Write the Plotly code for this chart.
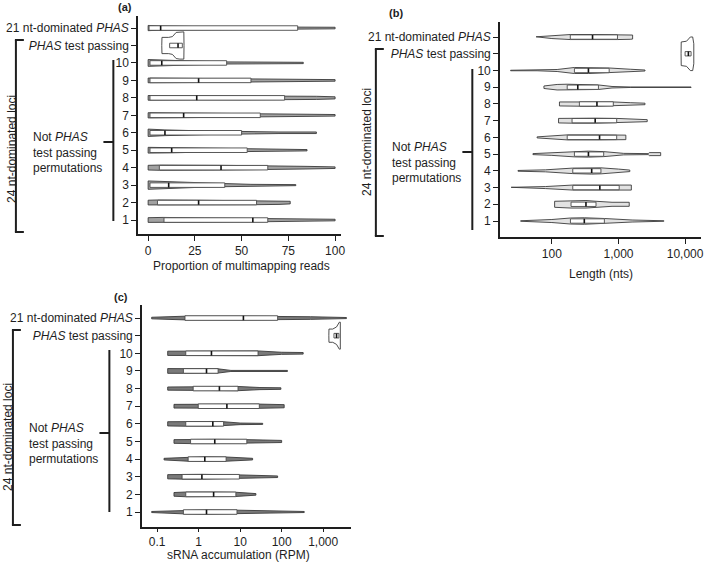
import plotly.graph_objects as go

W, H = 709, 566

# ---------------- data (rows: 1..10, PHAS test passing, 21 nt-dominated PHAS) ----------------
ROW_POS = list(range(1, 13))
ROW_LABELS = [str(i) for i in range(1, 11)] + ["<i>PHAS</i> test passing", "21 nt-dominated <i>PHAS</i>"]

# (a) Proportion of multimapping reads
A_MIN = [0, 0, 0, 0, 0, 0, 0, 0, 0, 0, 7.3, 0]
A_Q1 = [8.5, 5, 1, 6, 1, 1, 1, 1, 1, 1, 11.5, 0.5]
A_MED = [56, 27, 11, 39, 12.6, 9, 19, 26, 27, 7.3, 16, 6.7]
A_Q3 = [64, 58, 41, 64, 53, 50, 60, 73, 55, 42, 18.3, 80]
A_MAX = [100, 76, 79, 100, 85, 90, 100, 100, 100, 83, 19.2, 100]
A_VX = [[0, 8, 30, 56, 64, 85, 100], [0, 5, 27, 58, 70, 76], [0, 11, 25, 41, 55, 79],
        [0, 6, 39, 64, 85, 100], [0, 12.6, 30, 53, 70, 85], [0, 9, 30, 50, 70, 90],
        [0, 19, 40, 60, 80, 100], [0, 26, 50, 73, 90, 100], [0, 27, 55, 80, 100],
        [0, 7, 25, 42, 60, 83], [7.3, 7.4, 11, 13, 15, 17, 19.1, 19.2],
        [0, 7, 30, 80, 100]]
A_VW = [[0.9, 1, 0.8, 0.7, 0.7, 0.5, 0.3], [0.9, 1, 0.9, 0.8, 0.7, 0.5], [1.6, 1.4, 0.9, 0.6, 0.3, 0.2],
        [0.9, 1, 0.9, 0.8, 0.5, 0.3], [1.1, 1, 0.7, 0.5, 0.3, 0.25], [1.4, 1.1, 0.7, 0.4, 0.3, 0.3],
        [1, 0.9, 0.8, 0.7, 0.5, 0.3], [0.9, 0.8, 0.8, 0.8, 0.6, 0.4], [0.9, 0.8, 0.7, 0.5, 0.3],
        [1.3, 1.1, 0.7, 0.4, 0.3, 0.25], [0, 3.1, 3.1, 3.4, 5.0, 5.2, 5.2, 0],
        [1, 0.8, 0.5, 0.4, 0.3]]

# (b) Length (nts)
B_MIN = [34, 110, 24.5, 31, 52, 60, 126, 130, 76, 24, 8700, 58]
B_Q1 = [190, 194, 206, 206, 218, 170, 201, 259, 170, 218, 10000, 189]
B_MED = [307, 325, 525, 396, 354, 520, 447, 475, 245, 354, 11200, 408]
B_Q3 = [614, 460, 1025, 545, 600, 940, 940, 836, 500, 725, 12300, 966]
B_MAX = [4800, 1450, 1560, 1480, 4300, 1290, 2700, 2500, 12300, 2500, 13500, 1630]
B_VX = [[34, 100, 190, 307, 614, 1600, 4800], [110, 194, 325, 460, 800, 1450],
        [24.5, 80, 206, 525, 1025, 1560], [31, 80, 206, 396, 545, 1000, 1480],
        [52, 100, 218, 354, 600, 1200, 2800, 2900, 4300], [60, 100, 170, 520, 940, 1290],
        [126, 201, 447, 940, 1800, 2700], [130, 259, 475, 836, 1500, 2500],
        [76, 120, 170, 245, 500, 800, 1500, 12300], [24, 60, 120, 218, 354, 725, 1500, 2500],
        [8700, 8750, 10500, 12000, 13000, 13500], [58, 100, 189, 408, 966, 1500, 1630]]
B_VW = [[0.1, 0.6, 1.2, 1.3, 1, 0.4, 0.1], [1.2, 1.5, 1.5, 1.2, 0.8, 0.8],
        [0.1, 0.4, 1, 1, 1, 1], [0.15, 0.4, 1.1, 1.3, 1.2, 0.7, 0.3],
        [0.2, 0.5, 1.1, 1.2, 1, 0.3, 0.2, 0.6, 0.6], [0.2, 0.6, 1, 1, 1, 0.9],
        [0.9, 1, 1, 0.9, 0.6, 0.4], [0.8, 0.9, 0.9, 0.8, 0.5, 0.3],
        [0.5, 1.1, 1.2, 1.1, 0.9, 0.3, 0.1, 0.1], [0.1, 0.1, 0.4, 1.2, 1.2, 1, 0.5, 0.2],
        [0, 4.7, 5.0, 6.7, 6.7, 4.0], [0.1, 0.6, 1, 1, 1, 0.9, 0.8]]

# (c) sRNA accumulation (RPM)
C_MIN = [0.074, 0.255, 0.18, 0.147, 0.255, 0.18, 0.255, 0.18, 0.18, 0.18, 1370, 0.074]
C_Q1 = [0.43, 0.49, 0.4, 0.56, 0.64, 0.49, 0.98, 0.74, 0.43, 0.49, 1820, 0.47]
C_MED = [1.55, 2.3, 1.2, 1.41, 2.45, 2.2, 4.8, 3.17, 1.55, 2.04, 2100, 12]
C_Q3 = [8.4, 7.9, 9.6, 4.6, 14.5, 4.0, 29, 8.9, 2.95, 27, 2400, 80]
C_MAX = [350, 24, 80, 20, 100, 35, 115, 96, 138, 330, 2590, 3640]
C_VX = [[0.074, 0.43, 1.55, 8.4, 350], [0.255, 0.49, 2.3, 7.9, 24], [0.18, 0.4, 1.2, 9.6, 80],
        [0.147, 0.56, 1.41, 4.6, 20], [0.255, 0.64, 2.45, 14.5, 100], [0.18, 0.49, 2.2, 4, 10, 35],
        [0.255, 0.98, 4.8, 29, 115], [0.18, 0.74, 3.17, 8.9, 30, 96], [0.18, 0.43, 1.55, 2.95, 6, 138],
        [0.18, 0.3, 0.49, 2, 27, 100, 330], [1370, 1380, 1700, 2100, 2450, 2590],
        [0.074, 0.2, 0.47, 12, 80, 500, 3640]]
C_VW = [[0.2, 0.7, 0.8, 0.7, 0.2], [0.7, 0.9, 0.9, 0.8, 0.3], [0.8, 0.9, 0.9, 0.7, 0.3],
        [0.3, 0.8, 0.9, 0.8, 0.3], [0.7, 0.8, 0.8, 0.7, 0.4], [0.8, 0.9, 0.9, 0.8, 0.3, 0.2],
        [0.7, 0.8, 0.8, 0.8, 0.6], [0.6, 0.7, 0.8, 0.8, 0.4, 0.3], [0.9, 0.9, 0.9, 0.8, 0.2, 0.2],
        [0.8, 0.8, 0.9, 0.9, 0.9, 0.4, 0.3], [0, 2.5, 2.5, 3.3, 5.1, 5.1],
        [0.3, 0.5, 0.7, 0.7, 0.7, 0.5, 0.2]]

X_TITLES = ["Proportion of multimapping reads", "Length (nts)", "sRNA accumulation (RPM)"]
A_TICKS = [0, 25, 50, 75, 100]
B_TICKS = [100, 1000, 10000]
B_TICKTEXT = ["100", "1,000", "10,000"]
C_TICKS = [0.1, 1, 10, 100, 1000]
C_TICKTEXT = ["0.1", "1", "10", "100", "1,000"]

# ---------------- styling ----------------
FONT = "Liberation Sans, Arial, sans-serif"
INK = "#1e1e1e"
FS = 12
WSCALE = 0.15   # violin half-height scale (row units)
BOXH = 0.13     # box half-height (row units)
PHAS_ROW = 11


def fx(px):
    return px / W


def fy(py):
    return 1 - py / H


def violin_path(vx, vw, rows):
    xs, ys = [], []
    for pos, kx, kw in zip(ROW_POS, vx, vw):
        if pos not in rows:
            continue
        up = [pos + w * WSCALE for w in kw]
        lo = [pos - w * WSCALE for w in kw]
        xs += list(kx) + list(kx[::-1]) + [kx[0], None]
        ys += up + lo[::-1] + [up[0], None]
    return xs, ys


def box_path(q1, q3):
    xs, ys = [], []
    for pos, a, b in zip(ROW_POS, q1, q3):
        xs += [a, b, b, a, a, None]
        ys += [pos - BOXH, pos - BOXH, pos + BOXH, pos + BOXH, pos - BOXH, None]
    return xs, ys


def median_path(md):
    xs, ys = [], []
    for pos, m in zip(ROW_POS, md):
        xs += [m, m, None]
        ys += [pos - BOXH, pos + BOXH, None]
    return xs, ys


fig = go.Figure()
panels = [
    ("x", "y", "#a2a2a2", A_VX, A_VW, A_Q1, A_MED, A_Q3),
    ("x2", "y2", "#e2e2e2", B_VX, B_VW, B_Q1, B_MED, B_Q3),
    ("x3", "y3", "#7a7a7a", C_VX, C_VW, C_Q1, C_MED, C_Q3),
]
normal_rows = [r for r in ROW_POS if r != PHAS_ROW]
for xa, ya, vfill, vx, vw, q1, md, q3 in panels:
    xs, ys = violin_path(vx, vw, normal_rows)
    fig.add_trace(go.Scatter(x=xs, y=ys, mode="lines", fill="toself", fillcolor=vfill,
                             line=dict(color="#3a3a3a", width=0.9),
                             xaxis=xa, yaxis=ya, hoverinfo="skip", showlegend=False))
    xs, ys = violin_path(vx, vw, [PHAS_ROW])
    fig.add_trace(go.Scatter(x=xs, y=ys, mode="lines", fill="toself", fillcolor="white",
                             line=dict(color="#3a3a3a", width=0.9),
                             xaxis=xa, yaxis=ya, hoverinfo="skip", showlegend=False))
    xs, ys = box_path(q1, q3)
    fig.add_trace(go.Scatter(x=xs, y=ys, mode="lines", fill="toself", fillcolor="white",
                             line=dict(color="#4a4a4a", width=0.9),
                             xaxis=xa, yaxis=ya, hoverinfo="skip", showlegend=False))
    xs, ys = median_path(md)
    fig.add_trace(go.Scatter(x=xs, y=ys, mode="lines", line=dict(color="#111111", width=1.6),
                             xaxis=xa, yaxis=ya, hoverinfo="skip", showlegend=False))

axis_common = dict(showline=True, linewidth=2, linecolor=INK, ticks="outside", ticklen=5,
                   tickwidth=1.2, tickcolor=INK, showgrid=False, zeroline=False,
                   tickfont=dict(family=FONT, size=FS, color=INK))
y_common = dict(axis_common, tickvals=ROW_POS, ticktext=ROW_LABELS)

fig.update_layout(
    width=W, height=H, margin=dict(l=0, r=0, t=0, b=0),
    plot_bgcolor="white", paper_bgcolor="white", showlegend=False,
    xaxis=dict(axis_common, domain=[fx(139), fx(343)], range=[-5.3, 103.2], tickvals=A_TICKS, anchor="y"),
    yaxis=dict(y_common, domain=[fy(234), fy(16)], range=[0.2, 12.69], anchor="x"),
    xaxis2=dict(axis_common, type="log", domain=[fx(503), fx(705)], range=[1.224, 4.239],
                tickvals=B_TICKS, ticktext=B_TICKTEXT, anchor="y2"),
    yaxis2=dict(y_common, domain=[fy(237), fy(22)], range=[0.044, 12.9], anchor="x2"),
    xaxis3=dict(axis_common, type="log", domain=[fx(143), fx(353)], range=[-1.359, 3.671],
                tickvals=C_TICKS, ticktext=C_TICKTEXT, anchor="y3", ticklen=3),
    yaxis3=dict(y_common, domain=[fy(527), fy(305)], range=[0.15, 12.74], anchor="x3"),
)

ann = []


def text(px, py, s, size=FS, bold=False, angle=0, xanchor="center", align="center"):
    ann.append(dict(x=fx(px), y=fy(py), xref="paper", yref="paper", text=("<b>%s</b>" % s) if bold else s,
                    showarrow=False, textangle=angle, xanchor=xanchor, yanchor="middle", align=align,
                    font=dict(family=FONT, size=size, color=INK)))


# panel letters and axis titles
text(126, 7, "(a)", size=11, bold=True)
text(398, 13, "(b)", size=11, bold=True)
text(122, 297, "(c)", size=11, bold=True)
text(243, 266, X_TITLES[0])
text(604, 274, X_TITLES[1])
text(240, 555, X_TITLES[2])

shapes = []


def line(x0, y0, x1, y1):
    shapes.append(dict(type="line", xref="paper", yref="paper", x0=fx(x0), y0=fy(y0), x1=fx(x1), y1=fy(y1),
                       line=dict(color=INK, width=2)))


def brackets(ox, oy0, oy1, tx, ty, ix, iy0, iy1, iyt, nx, ny):
    line(ox, oy0, ox, oy1)
    line(ox - 1, oy0, ox + 8, oy0)
    line(ox - 1, oy1, ox + 8, oy1)
    text(tx, ty, "24 nt-dominated loci", angle=-90)
    line(ix, iy0, ix, iy1)
    line(ix - 10, iyt, ix, iyt)
    ann.append(dict(x=fx(nx), y=fy(ny), xref="paper", yref="paper",
                    text="Not <i>PHAS</i><br>test passing<br>permutations", showarrow=False,
                    xanchor="left", yanchor="middle", align="left",
                    font=dict(family=FONT, size=FS, color=INK)))


brackets(16, 40, 232, 12, 149, 114, 60, 221, 142, 31, 152)
brackets(378, 49, 236, 369, 142, 475, 69, 230, 152, 392, 162)
brackets(13, 330, 525, 8, 437, 110, 350, 512, 433, 27, 443)

fig.update_layout(annotations=ann, shapes=shapes)
fig.write_html("out.html", config={"displayModeBar": False},
               post_script="document.body.style.margin='0px';")
